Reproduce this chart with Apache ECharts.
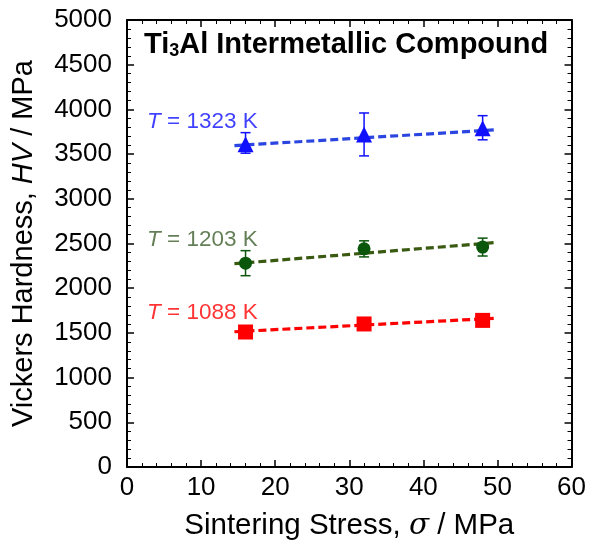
<!DOCTYPE html>
<html>
<head>
<meta charset="utf-8">
<script src="https://cdn.jsdelivr.net/npm/echarts@6/dist/echarts.min.js"></script>
<style>html,body{margin:0;padding:0;background:#fff;}#c{width:589px;height:548px;}</style>
</head>
<body>
<div id="c"></div>
<script>
// Data
var stress = [16, 32, 48];
var hv1323 = [3610, 3720, 3790];
var lo1323 = [3510, 3480, 3660];
var hi1323 = [3740, 3960, 3930];
var hv1203 = [2280, 2440, 2460];
var lo1203 = [2140, 2350, 2360];
var hi1203 = [2420, 2530, 2560];
var hv1088 = [1510, 1600, 1640];
var lo1088 = [1480, 1570, 1610];
var hi1088 = [1540, 1630, 1670];
var fitX = [14.5, 49.5];
var fit1323 = [3595, 3770];
var fit1203 = [2274, 2509];
var fit1088 = [1513, 1663];
var labelNames = ['1323 K', '1203 K', '1088 K'];
var labelPos = [[2.7, 3860], [2.7, 2540], [2.7, 1722]];
var xTicks = [0, 10, 20, 30, 40, 50, 60];
var yTicks = [0, 500, 1000, 1500, 2000, 2500, 3000, 3500, 4000, 4500, 5000];

var FONT = '"Liberation Sans", Arial, Helvetica, sans-serif';
var C_BLUE = '#1010ff', C_BLUE_L = '#2a45e0';
var C_GREEN = '#0a560a', C_GREEN_L = '#3a5a12', C_GREEN_T = '#3d5f2d';
var C_RED = '#ff0000';

function pts(ys){ return stress.map(function(x,i){ return [x, ys[i]]; }); }
function fit(ys){ return fitX.map(function(x,i){ return [x, ys[i]]; }); }
function errData(lo, hi){ return stress.map(function(x,i){ return [x, lo[i], hi[i]]; }); }
function errSeries(lo, hi, color){
  return {
    type: 'custom', xAxisIndex: 0, yAxisIndex: 0, z: 3,
    data: errData(lo, hi),
    renderItem: function(params, api){
      var x = api.value(0);
      var a = api.coord([x, api.value(1)]);
      var b = api.coord([x, api.value(2)]);
      var w = 5;
      return {type:'group', children:[
        {type:'line', shape:{x1:a[0], y1:a[1], x2:b[0], y2:b[1]}, style:{stroke:color, lineWidth:1.5}},
        {type:'line', shape:{x1:a[0]-w, y1:a[1], x2:a[0]+w, y2:a[1]}, style:{stroke:color, lineWidth:1.5}},
        {type:'line', shape:{x1:b[0]-w, y1:b[1], x2:b[0]+w, y2:b[1]}, style:{stroke:color, lineWidth:1.5}}
      ]};
    }
  };
}
function fitSeries(ys, color){
  return {type:'line', data: fit(ys), symbol:'none', z: 4, silent:true,
    lineStyle:{color: color, width: 3.2, type:[8,4]}};
}
function ptSeries(ys, color, sym, size){
  return {type:'scatter', data: pts(ys), symbol: sym, symbolSize: size, z: 5,
    itemStyle:{color: color, opacity:1}};
}
function labelSeries(idx, color){
  return {type:'scatter', data:[labelPos[idx]], symbolSize:0, z:6, silent:true,
    label:{show:true, position:'right', distance:0, color: color, fontFamily: FONT, fontSize: 22.5,
      formatter: '{i|T} = ' + labelNames[idx],
      rich:{i:{fontStyle:'italic', color: color, fontFamily: FONT, fontSize: 22.5}}}};
}

var axisCommon = {
  axisLine:{show:true, onZero:false, lineStyle:{color:'#000', width:2}},
  axisTick:{show:true, inside:true, length:7, lineStyle:{color:'#000', width:1.5}},
  minorTick:{show:true, splitNumber:5, length:4, lineStyle:{color:'#000', width:1}},
  splitLine:{show:false}
};
function plain(v){ return String(v); }

var chart = echarts.init(document.getElementById('c'));
chart.setOption({
  animation:false,
  backgroundColor:'#fff',
  grid:{left:127, right:17, top:20, bottom:81},
  title:{
    left:139, top:25,
    text:'{b|Ti}{s|3}{b|Al Intermetallic Compound}',
    textStyle:{rich:{
      b:{fontFamily:FONT, fontWeight:'bold', fontSize:29, color:'#000'},
      s:{fontFamily:FONT, fontWeight:'bold', fontSize:18, color:'#000', padding:[12,0,0,0]}
    }}
  },
  xAxis:[
    Object.assign({type:'value', min:0, max:60, interval:10, position:'bottom',
      name:'{n|Sintering Stress, }{i|σ}{n| / MPa}', nameLocation:'middle', nameGap:44,
      nameTextStyle:{rich:{n:{fontFamily:FONT, fontSize:29.5, color:'#000'}, i:{fontFamily:'"DejaVu Serif", serif', fontStyle:'italic', fontSize:29.5, color:'#000'}}},
      axisLabel:{fontFamily:FONT, fontSize:26, color:'#000', margin:8, formatter: plain}
    }, axisCommon),
    Object.assign({type:'value', min:0, max:60, interval:10, position:'top', axisLabel:{show:false}}, axisCommon)
  ],
  yAxis:[
    Object.assign({type:'value', min:0, max:5000, interval:500, position:'left',
      name:'{n|Vickers Hardness, }{i|HV}{n| / MPa}', nameLocation:'middle', nameGap:89,
      nameTextStyle:{rich:{n:{fontFamily:FONT, fontSize:29, color:'#000'}, i:{fontFamily:FONT, fontStyle:'italic', fontSize:29, color:'#000'}}},
      axisLabel:{fontFamily:FONT, fontSize:26, color:'#000', margin:15, formatter: plain}
    }, axisCommon),
    Object.assign({type:'value', min:0, max:5000, interval:500, position:'right', axisLabel:{show:false}}, axisCommon)
  ],
  series:[
    fitSeries(fit1323, C_BLUE_L),
    fitSeries(fit1203, C_GREEN_L),
    fitSeries(fit1088, C_RED),
    errSeries(lo1323, hi1323, C_BLUE),
    errSeries(lo1203, hi1203, C_GREEN),
    errSeries(lo1088, hi1088, C_RED),
    ptSeries(hv1323, C_BLUE, 'triangle', 16),
    ptSeries(hv1203, C_GREEN, 'circle', 13),
    ptSeries(hv1088, C_RED, 'rect', 15),
    labelSeries(0, C_BLUE),
    labelSeries(1, C_GREEN_T),
    labelSeries(2, C_RED)
  ]
});
</script>
</body>
</html>
